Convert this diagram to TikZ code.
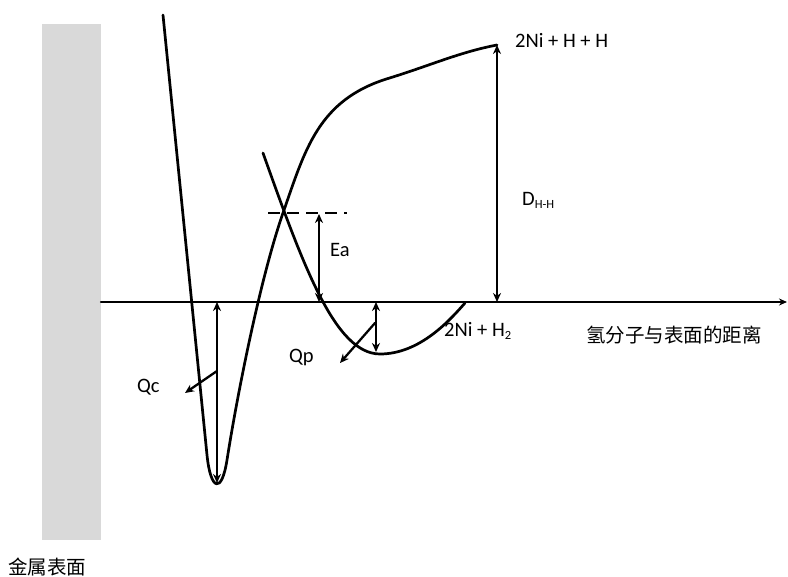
\documentclass[tikz,border=0pt]{standalone}
\usepackage{fontspec}
\setmainfont{Carlito}
\newfontfamily\cjk{Noto Sans CJK SC}
\usetikzlibrary{arrows.meta}
\definecolor{Wall}{RGB}{217,217,217}

\begin{document}
\begin{tikzpicture}[x=1pt,y=-1pt,line cap=round,line join=round,
  curve/.style={line width=2.7pt},
  dimarrow/.style={line width=2.3pt,{Stealth[length=9pt,width=8pt]}-{Stealth[length=9pt,width=8pt]}},
  outarrow/.style={line width=2.3pt,-{Stealth[length=9pt,width=8pt]}},
  lbl/.style={inner sep=0pt,anchor=base west,font=\fontsize{20.5}{24}\selectfont},
  cjklbl/.style={inner sep=0pt,anchor=west,font=\cjk\fontsize{19.5}{22}\selectfont}]
\path[use as bounding box] (0,0) rectangle (788,577);
% metal surface
\fill[Wall] (42,24) rectangle (101,540);
% distance axis
\coordinate (axisL) at (101,302);
\coordinate (axisR) at (787,302);
\draw[line width=2.3pt,-{Stealth[length=8pt,width=7pt]}] (axisL) -- (axisR);
% chemisorption curve
\draw[curve] (163,15) -- (207,455)
  .. controls (210.5,490) and (221.5,495) .. (227,460)
  .. controls (238,390) and (261,276) .. (283,213)
  .. controls (305,150) and (318,100) .. (388,78.5)
  .. controls (430,65.6) and (460,52) .. (497,45);
% physisorption curve
\draw[curve] (263,153) .. controls (303,265) and (335,354) .. (380,354)
  .. controls (420,354) and (450,320) .. (465,303);
% activation level
\coordinate (dashL) at (268,213);
\coordinate (dashR) at (347,213);
\draw[line width=2.7pt,line cap=butt,dash pattern=on 12pt off 7pt] (dashL) -- (dashR);
% energy arrows
\coordinate (eaTop) at (319,214);
\coordinate (eaBot) at (319,302);
\coordinate (dTop) at (497,45);
\coordinate (dBot) at (497,302);
\coordinate (qpTop) at (376,302);
\coordinate (qpBot) at (376,352);
\coordinate (qcTop) at (217,302);
\coordinate (qcBot) at (217,483);
\draw[dimarrow] (eaTop) -- (eaBot);
\draw[dimarrow] (dTop) -- (dBot);
\draw[dimarrow] (qpTop) -- (qpBot);
\draw[dimarrow] (qcTop) -- (qcBot);
\coordinate (qpFrom) at (375,323);
\coordinate (qpTo) at (340,363);
\coordinate (qcFrom) at (217,371);
\coordinate (qcTo) at (185,393);
\draw[outarrow] (qpFrom) -- (qpTo);
\draw[outarrow] (qcFrom) -- (qcTo);
% labels
\node[lbl] (atoms) at (515,48) {2Ni + H + H};
\node[lbl] (dhh) at (522,206) {D\raisebox{-3pt}{\fontsize{12.5}{13}\selectfont H-H}};
\node[lbl] (ea) at (330,257) {Ea};
\node[lbl] (qp) at (289,363) {Qp};
\node[lbl] (qc) at (137,393) {Qc};
\node[lbl] (mol) at (444,337) {2Ni + H\raisebox{-3pt}{\fontsize{12.5}{13}\selectfont 2}};
\node[cjklbl] (dist) at (586,335) {氢分子与表面的距离};
\node[cjklbl] (metal) at (8,567) {金属表面};
\end{tikzpicture}
\end{document}
